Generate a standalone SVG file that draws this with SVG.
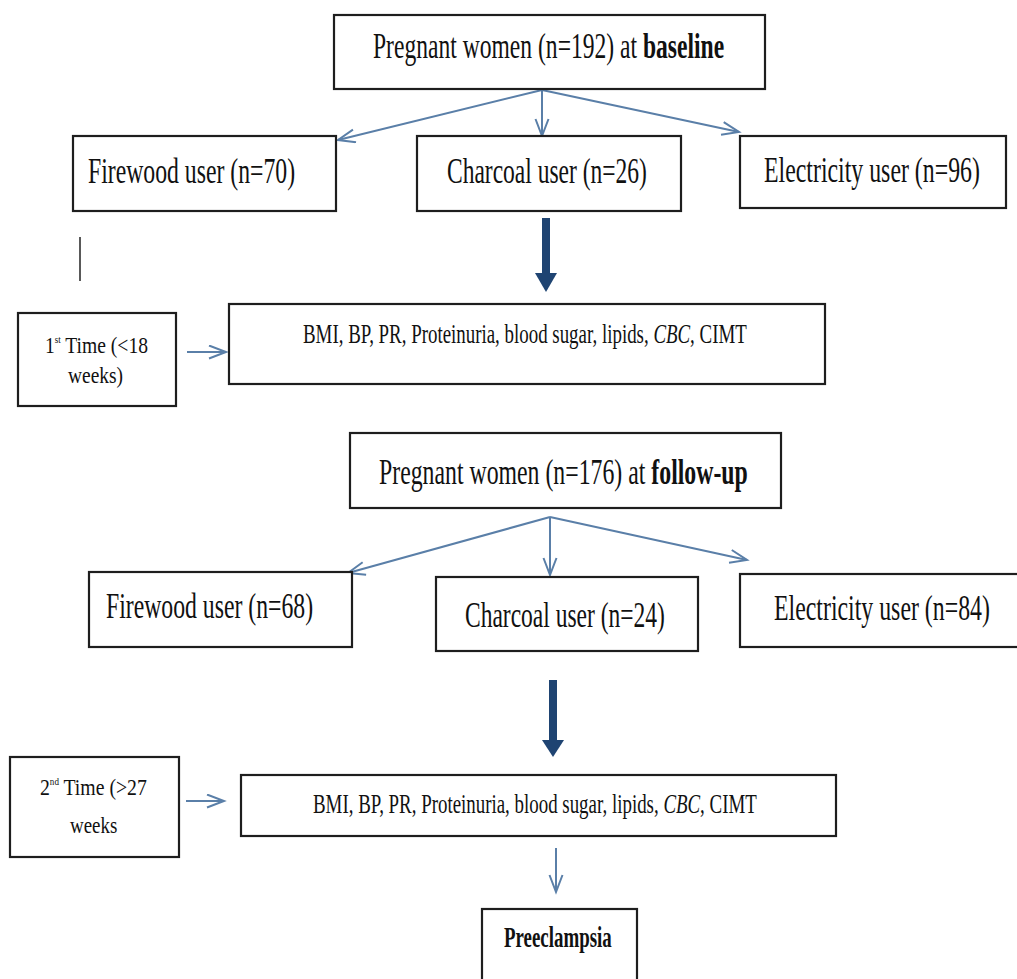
<svg xmlns="http://www.w3.org/2000/svg" width="1017" height="979" viewBox="0 0 1017 979">
<defs>
<style>
.box{fill:#fff;stroke:#1e1e1e;stroke-width:2.2}
.t{font-family:"Liberation Serif","Times New Roman",serif;fill:#111}
.thin{stroke:#5a7fa8;stroke-width:2;fill:none;marker-end:url(#open)}
.thick{fill:#1f4472}
.b{font-weight:bold}
</style>
<marker id="open" markerUnits="userSpaceOnUse" markerWidth="22" markerHeight="18" refX="18" refY="7.5" orient="auto">
<path d="M1,1 L18,7.5 L1,14" fill="none" stroke="#5a7fa8" stroke-width="2"/>
</marker>
</defs>
<rect width="1017" height="979" fill="#fff"/>

<g id="connectors">
<line class="thin" x1="542" y1="90" x2="338" y2="140"/>
<line class="thin" x1="542" y1="90" x2="542" y2="136"/>
<line class="thin" x1="542" y1="90" x2="739" y2="132"/>
<line class="thin" x1="550" y1="517" x2="348" y2="573"/>
<line class="thin" x1="550" y1="517" x2="550" y2="575"/>
<line class="thin" x1="550" y1="517" x2="747" y2="560"/>
<line class="thin" x1="187" y1="352" x2="226" y2="352"/>
<line class="thin" x1="186" y1="801" x2="224" y2="801"/>
<line class="thin" x1="556" y1="848" x2="556" y2="892"/>
<rect class="thick" x="542" y="218" width="8" height="58"/>
<polygon class="thick" points="535,273 557,273 546,292"/>
<rect class="thick" x="549" y="680" width="8" height="63"/>
<polygon class="thick" points="542,740 564,740 553,757"/>
<line x1="80" y1="237" x2="80" y2="281" stroke="#222" stroke-width="1.5"/>
</g>

<g id="baseline">
<rect class="box" x="334" y="15" width="431" height="74"/>
<text class="t" font-size="35" transform="translate(373 58) scale(0.674 1)">Pregnant women (n=192) at <tspan class="b">baseline</tspan></text>
</g>
<g id="firewood1">
<rect class="box" x="73" y="136" width="263" height="75"/>
<text class="t" font-size="35" transform="translate(88 183) scale(0.678 1)">Firewood user (n=70)</text>
</g>
<g id="charcoal1">
<rect class="box" x="417" y="136" width="264" height="75"/>
<text class="t" font-size="35" transform="translate(447 183) scale(0.672 1)">Charcoal user (n=26)</text>
</g>
<g id="electricity1">
<rect class="box" x="740" y="136" width="266" height="72"/>
<text class="t" font-size="35" transform="translate(764 182) scale(0.681 1)">Electricity user (n=96)</text>
</g>
<g id="time1">
<rect class="box" x="18" y="313" width="158" height="93"/>
<text class="t" font-size="24" transform="translate(45 353) scale(0.816 1)">1<tspan font-size="11" dy="-10">st</tspan><tspan dy="10"> Time (&lt;18</tspan></text>
<text class="t" font-size="24" transform="translate(68 383) scale(0.81 1)">weeks)</text>
</g>
<g id="measures1">
<rect class="box" x="229" y="304" width="596" height="80"/>
<text class="t" font-size="27" transform="translate(303 343) scale(0.7 1)">BMI, BP, PR, Proteinuria, blood sugar, lipids, <tspan font-style="italic">CBC</tspan>, CIMT</text>
</g>

<g id="followup">
<rect class="box" x="350" y="433" width="431" height="75"/>
<text class="t" font-size="35" transform="translate(379 484) scale(0.68 1)">Pregnant women (n=176) at <tspan class="b">follow-up</tspan></text>
</g>
<g id="firewood2">
<rect class="box" x="89" y="572" width="263" height="75"/>
<text class="t" font-size="35" transform="translate(106 618) scale(0.678 1)">Firewood user (n=68)</text>
</g>
<g id="charcoal2">
<rect class="box" x="436" y="577" width="262" height="74"/>
<text class="t" font-size="35" transform="translate(465 627) scale(0.672 1)">Charcoal user (n=24)</text>
</g>
<g id="electricity2">
<rect class="box" x="740" y="574" width="290" height="73"/>
<text class="t" font-size="35" transform="translate(774 620) scale(0.681 1)">Electricity user (n=84)</text>
</g>
<g id="time2">
<rect class="box" x="10" y="757" width="169" height="100"/>
<text class="t" font-size="24" transform="translate(40 795) scale(0.823 1)">2<tspan font-size="11" dy="-10">nd</tspan><tspan dy="10"> Time (&gt;27</tspan></text>
<text class="t" font-size="24" transform="translate(70 833) scale(0.79 1)">weeks</text>
</g>
<g id="measures2">
<rect class="box" x="241" y="775" width="595" height="61"/>
<text class="t" font-size="27" transform="translate(313 813) scale(0.7 1)">BMI, BP, PR, Proteinuria, blood sugar, lipids, <tspan font-style="italic">CBC</tspan>, CIMT</text>
</g>
<g id="preeclampsia">
<rect class="box" x="482" y="909" width="155" height="90"/>
<text class="t b" font-size="30" transform="translate(504 947) scale(0.63 1)">Preeclampsia</text>
</g>
</svg>
